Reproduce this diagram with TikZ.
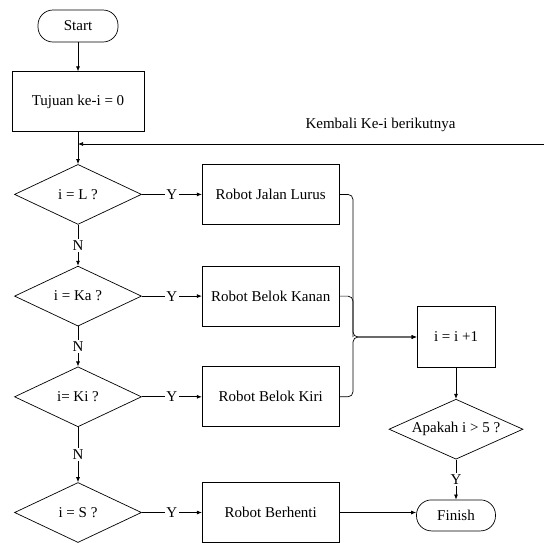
\documentclass[tikz,border=0pt]{standalone}
\usepackage{fontspec}
\setmainfont{Liberation Serif}
\usetikzlibrary{positioning, shapes.geometric, arrows.meta}

\tikzset{
    base/.style={draw, line width=0.7pt, font=\fontsize{15}{18}\selectfont},
    terminal/.style={base, rectangle, rounded corners=15pt, minimum width=80pt, minimum height=32pt},
    process/.style={base, rectangle, minimum width=137pt, minimum height=60pt},
    decision/.style={base, diamond, aspect=2.2, inner sep=0pt, minimum width=127pt, minimum height=60pt},
    flow/.style={-{Latex[length=5pt,width=4pt]}, line width=0.7pt},
    lbl/.style={fill=white, inner sep=1.5pt, font=\fontsize{15}{18}\selectfont}
}

\begin{document}
\begin{tikzpicture}[x=1pt, y=-1pt]
    \useasboundingbox[fill=white] (0,0) rectangle (544,542);

    % Main column
    \node[terminal] (start) at (78,26) {Start};
    \node[process, minimum width=132pt, below=29pt of start] (init) {Tujuan ke-i = 0};
    \node[decision, below=32pt of init] (cekL) {i = L ?};
    \node[decision, below=41pt of cekL] (cekKa) {i = Ka ?};
    \node[decision, below=40pt of cekKa] (cekKi) {i= Ki ?};
    \node[decision, below=55pt of cekKi] (cekS) {i = S ?};

    % Actions
    \node[process, right=60pt of cekL] (lurus) {Robot Jalan Lurus};
    \node[process, right=60pt of cekKa] (kanan) {Robot Belok Kanan};
    \node[process, right=60pt of cekKi] (kiri) {Robot Belok Kiri};
    \node[process, right=60pt of cekS] (henti) {Robot Berhenti};

    % Counter and end
    \node[process, minimum width=78pt, minimum height=61pt] (tambah) at (456,337) {i = i +1};
    \node[decision, minimum width=134pt, below=31pt of tambah] (cekAkhir) {Apakah i > 5 ?};
    \node[terminal, minimum width=79pt, minimum height=31pt, below=40pt of cekAkhir] (finish) {Finish};

    % Loop back
    \coordinate (balik) at (544,144);
    \coordinate (merge) at (init.south |- balik);
    \coordinate (join) at (353,337);
    \node[font=\fontsize{15}{18}\selectfont] (kembali) at (380.5,125) {Kembali Ke-i berikutnya};

    \draw[flow] (start) -- (init);
    \draw[flow] (init) -- (cekL);
    \draw[flow] (balik) -- (merge);

    \draw[flow] (cekL) -- node[lbl] {N} (cekKa);
    \draw[flow] (cekKa) -- node[lbl] {N} (cekKi);
    \draw[flow] (cekKi) -- node[lbl] {N} (cekS);

    \draw[flow] (cekL) -- node[lbl] {Y} (lurus);
    \draw[flow] (cekKa) -- node[lbl] {Y} (kanan);
    \draw[flow] (cekKi) -- node[lbl] {Y} (kiri);
    \draw[flow] (cekS) -- node[lbl] {Y} (henti);

    \draw[flow, rounded corners=5pt] (lurus.east) -| (join) -- (tambah.west);
    \draw[flow, rounded corners=5pt] (kiri.east) -| (join) -- (tambah.west);
    \draw[line width=0.7pt, rounded corners=5pt] (kanan.east) -| (join);

    \draw[flow] (tambah) -- (cekAkhir);
    \draw[flow] (cekAkhir) -- node[lbl] {Y} (finish);
    \draw[flow] (henti.east) -- (henti.east -| finish.west);
\end{tikzpicture}
\end{document}
